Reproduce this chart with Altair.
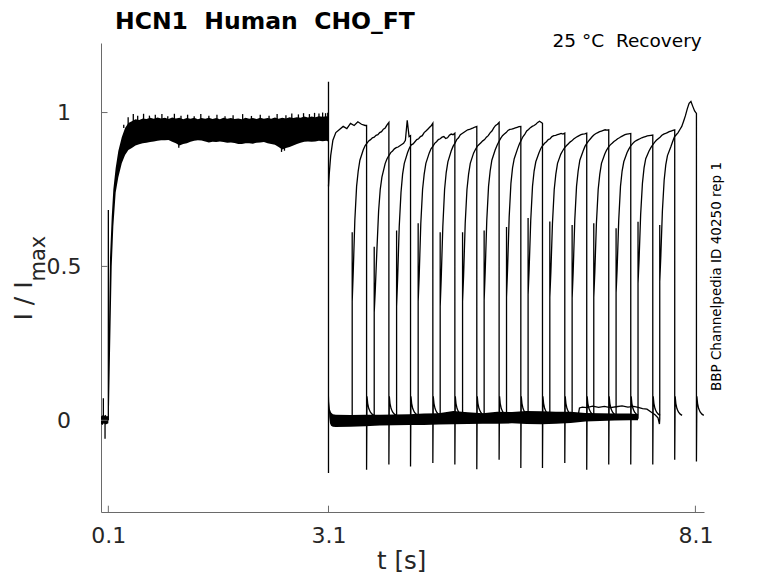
import altair as alt
import pandas as pd

# ---------------- texts ----------------
TITLE = "HCN1\u00a0\u00a0Human\u00a0\u00a0CHO_FT"
COND = "25 °C\u00a0\u00a0Recovery"
SIDE = "BBP Channelpedia ID 40250 rep 1"
XTITLE = "t [s]"
YTITLE_MAIN = "I / I"
YTITLE_SUB = "max"

# ---------------- ticks ----------------
x_ticks = [0.1, 3.1, 8.1]
y_ticks = [0.0, 0.5, 1.0]

# ---------------- pre-pulse (0 - 0.1 s) ----------------
pre_t = [0.000, 0.020, 0.040, 0.060, 0.080, 0.100]
pre_lo = [-0.012, -0.015, -0.010, -0.014, -0.012, -0.010]
pre_hi = [0.012, 0.016, 0.014, 0.018, 0.012, 0.015]
pre_spike_t = [0.032, 0.055]
pre_spike_I = [0.072, -0.060]

# ---------------- first activating pulse (0.1 - 3.1 s), noisy band ----------------
p1_t = [0.100, 0.110, 0.123, 0.146, 0.168, 0.200, 0.236, 0.283, 0.328, 0.373,
        0.42, 0.47, 0.52, 0.57, 0.62, 0.67, 0.72, 0.77, 0.82, 0.87,
        0.92, 0.97, 1.02, 1.07, 1.12, 1.17, 1.22, 1.27, 1.32, 1.37,
        1.42, 1.47, 1.52, 1.57, 1.62, 1.67, 1.72, 1.77, 1.82, 1.87,
        1.92, 1.97, 2.02, 2.07, 2.12, 2.17, 2.22, 2.27, 2.32, 2.37,
        2.42, 2.47, 2.52, 2.57, 2.62, 2.67, 2.72, 2.77, 2.82, 2.87,
        2.92, 2.97, 3.02, 3.07, 3.098]
p1_lo = [0.000, 0.050, 0.220, 0.500, 0.630, 0.740, 0.790, 0.835, 0.862, 0.878,
         0.885, 0.893, 0.897, 0.900, 0.902, 0.904, 0.906, 0.908, 0.910, 0.910,
         0.911, 0.905, 0.900, 0.893, 0.898, 0.900, 0.905, 0.908, 0.910, 0.909,
         0.906, 0.903, 0.905, 0.904, 0.906, 0.904, 0.902, 0.903, 0.901, 0.898,
         0.898, 0.900, 0.900, 0.899, 0.902, 0.903, 0.904, 0.900, 0.898, 0.895,
         0.888, 0.880, 0.885, 0.888, 0.893, 0.898, 0.902, 0.905, 0.906, 0.905,
         0.906, 0.908, 0.907, 0.908, 0.906]
p1_hi = [0.050, 0.320, 0.530, 0.660, 0.750, 0.820, 0.875, 0.920, 0.950, 0.966,
         0.972, 0.978, 0.976, 0.981, 0.979, 0.983, 0.980, 0.984, 0.981, 0.983,
         0.979, 0.984, 0.981, 0.983, 0.978, 0.982, 0.980, 0.983, 0.978, 0.982,
         0.980, 0.983, 0.979, 0.982, 0.978, 0.983, 0.980, 0.982, 0.979, 0.981,
         0.978, 0.983, 0.980, 0.982, 0.979, 0.983, 0.980, 0.982, 0.980, 0.984,
         0.980, 0.983, 0.981, 0.985, 0.982, 0.985, 0.983, 0.987, 0.984, 0.987,
         0.985, 0.988, 0.986, 0.988, 0.986]
# hairline noise spikes on top of the plateau band
p1_spike_t = [0.31, 0.37, 0.44, 0.50, 0.58, 0.66, 0.74, 0.83, 0.91, 1.00,
              1.09, 1.18, 1.27, 1.36, 1.47, 1.58, 1.69, 1.80, 1.93, 2.05,
              2.17, 2.29, 2.40, 2.52, 2.60, 2.69, 2.76, 2.84, 2.91, 2.97,
              3.02, 3.06, 3.09]
p1_spike_I = [0.960, 0.985, 0.995, 0.990, 0.996, 0.990, 0.993, 0.995, 0.988, 0.996,
              0.990, 0.993, 0.988, 0.995, 0.990, 0.993, 0.988, 0.991, 0.995, 0.989,
              0.993, 0.990, 0.995, 0.991, 0.997, 0.994, 0.998, 0.995, 0.999, 0.997,
              1.000, 0.998, 0.999]
p1_dip_t = [1.06, 2.46, 2.50]
p1_dip_I = [0.886, 0.872, 0.876]
jump_t = [0.100, 0.100, 0.102]
jump_I = [0.000, 0.683, 0.300]

# ---------------- transient at 3.1 s ----------------
step_t = [3.100, 3.100]
step_I = [1.100, -0.171]

# ---------------- deactivated baseline band (3.1 - 7.32 s) ----------------
base_t = [3.100, 3.104, 3.110, 3.120, 3.135, 3.160, 3.200, 3.400, 3.600, 3.800,
          4.000, 4.200, 4.400, 4.600, 4.800, 5.000, 5.200, 5.400, 5.600, 5.800,
          6.000, 6.200, 6.400, 6.600, 6.800, 7.000, 7.200, 7.318]
base_lo = [0.100, 0.040, 0.010, -0.010, -0.018, -0.021, -0.022, -0.021, -0.019, -0.017,
           -0.016, -0.015, -0.015, -0.014, -0.013, -0.012, -0.011, -0.011, -0.010, -0.012,
           -0.013, -0.011, -0.009, -0.004, -0.002, -0.001, 0.000, 0.000]
base_hi = [0.170, 0.100, 0.060, 0.035, 0.025, 0.020, 0.018, 0.017, 0.018, 0.018,
           0.019, 0.020, 0.022, 0.023, 0.030, 0.026, 0.023, 0.028, 0.027, 0.030,
           0.029, 0.028, 0.028, 0.024, 0.023, 0.022, 0.022, 0.020]

# elevated baseline of the last sweep
s16_base_t = [6.50, 6.52, 6.56, 6.62, 6.70, 6.78, 6.86, 6.94, 7.02, 7.10,
              7.18, 7.26, 7.32, 7.38, 7.44, 7.50, 7.55, 7.59, 7.61]
s16_base_I = [0.012, 0.040, 0.043, 0.041, 0.046, 0.042, 0.045, 0.041, 0.044, 0.047,
              0.043, 0.045, 0.042, 0.038, 0.036, 0.026, 0.018, 0.008, -0.012]

# ---------------- recovery test pulses ----------------
s1_t = [3.100, 3.110, 3.130, 3.160, 3.200, 3.250, 3.300, 3.350, 3.400, 3.450,
        3.500, 3.550, 3.600]
s1_I = [0.760, 0.800, 0.860, 0.910, 0.935, 0.945, 0.955, 0.948, 0.965, 0.958,
        0.970, 0.962, 0.958]

onsets = [3.423, 3.723, 4.028, 4.322, 4.622, 4.927, 5.221, 5.526, 5.820, 6.116,
          6.420, 6.715, 7.019, 7.318, 7.614]
offsets = [3.619, 3.923, 4.218, 4.522, 4.822, 5.121, 5.425, 5.721, 6.016, 6.320,
           6.619, 6.919, 7.219, 7.519, 7.818, 8.114]
spike_top = [0.611, 0.564, 0.617, 0.640, 0.611, 0.611, 0.617, 0.628, 0.657, 0.646,
             0.635, 0.640, 0.624, 0.645, 0.635]
off_bottom = [-0.161, -0.144, -0.150, -0.139, -0.144, -0.159, -0.128, -0.155,
              -0.155, -0.139, -0.161, -0.144, -0.144, -0.144, -0.128, -0.134]

rise_dt = [0.000, 0.014, 0.036, 0.060, 0.082, 0.105, 0.150, 0.175, 0.200, 0.225,
           0.250, 0.275, 0.300, 0.325, 0.350, 0.375, 0.400, 0.425, 0.450, 0.475, 0.495]
rise_I = [
    [0.386, 0.48, 0.65, 0.76, 0.81, 0.845, 0.878, 0.892, 0.900, 0.908, 0.912, 0.918, 0.920, 0.926, 0.928, 0.935, 0.938, 0.946, 0.950, 0.960, 0.968],
    [0.350, 0.42, 0.55, 0.68, 0.75, 0.790, 0.835, 0.850, 0.860, 0.870, 0.875, 0.882, 0.886, 0.888, 0.892, 0.896, 0.900, 0.910, 0.975, 0.922, 0.925],
    [0.370, 0.46, 0.63, 0.74, 0.80, 0.835, 0.870, 0.885, 0.895, 0.898, 0.905, 0.912, 0.915, 0.922, 0.925, 0.935, 0.940, 0.946, 0.952, 0.958, 0.965],
    [0.386, 0.47, 0.64, 0.75, 0.80, 0.835, 0.868, 0.882, 0.890, 0.900, 0.905, 0.912, 0.915, 0.920, 0.922, 0.916, 0.918, 0.926, 0.930, 0.928, 0.933],
    [0.370, 0.46, 0.63, 0.75, 0.805, 0.840, 0.875, 0.890, 0.900, 0.912, 0.918, 0.928, 0.932, 0.936, 0.940, 0.944, 0.945, 0.948, 0.950, 0.953, 0.955],
    [0.386, 0.47, 0.64, 0.75, 0.80, 0.835, 0.868, 0.880, 0.890, 0.896, 0.902, 0.908, 0.912, 0.920, 0.925, 0.934, 0.940, 0.950, 0.958, 0.962, 0.968],
    [0.390, 0.48, 0.65, 0.76, 0.81, 0.845, 0.878, 0.893, 0.905, 0.916, 0.925, 0.930, 0.935, 0.942, 0.945, 0.946, 0.948, 0.950, 0.952, 0.954, 0.955],
    [0.400, 0.49, 0.66, 0.77, 0.82, 0.850, 0.882, 0.898, 0.910, 0.922, 0.930, 0.940, 0.945, 0.951, 0.955, 0.958, 0.962, 0.968, 0.972, 0.968, 0.965],
    [0.408, 0.49, 0.65, 0.76, 0.81, 0.840, 0.870, 0.884, 0.893, 0.900, 0.905, 0.912, 0.915, 0.922, 0.925, 0.926, 0.928, 0.930, 0.932, 0.930, 0.933],
    [0.400, 0.48, 0.64, 0.75, 0.80, 0.835, 0.865, 0.876, 0.885, 0.892, 0.898, 0.904, 0.908, 0.914, 0.918, 0.922, 0.925, 0.928, 0.930, 0.931, 0.933],
    [0.397, 0.48, 0.65, 0.76, 0.81, 0.845, 0.875, 0.890, 0.900, 0.908, 0.915, 0.922, 0.928, 0.932, 0.935, 0.938, 0.940, 0.942, 0.944, 0.943, 0.944],
    [0.400, 0.48, 0.64, 0.75, 0.80, 0.835, 0.865, 0.878, 0.888, 0.895, 0.900, 0.906, 0.910, 0.915, 0.918, 0.922, 0.925, 0.928, 0.930, 0.931, 0.932],
    [0.414, 0.49, 0.65, 0.76, 0.81, 0.840, 0.870, 0.882, 0.892, 0.899, 0.905, 0.909, 0.912, 0.915, 0.918, 0.920, 0.922, 0.924, 0.925, 0.926, 0.927],
    [0.445, 0.52, 0.67, 0.77, 0.82, 0.850, 0.875, 0.886, 0.895, 0.903, 0.910, 0.915, 0.920, 0.926, 0.930, 0.932, 0.935, 0.938, 0.940, 0.942, 0.944],
    [0.450, 0.53, 0.68, 0.78, 0.83, 0.860, 0.888, 0.905, 0.921, 0.928, 0.935, 0.945, 0.955, 0.972, 0.990, 1.012, 1.030, 1.036, 1.020, 1.005, 0.997],
]

tail_dt = [0.006, 0.015, 0.030, 0.050, 0.075, 0.100]
tail_I = [0.078, 0.055, 0.038, 0.027, 0.020, 0.016]

# ---------------- build tables ----------------
line_rows = []


def add_line(seg, ts, vs):
    for i, (t, v) in enumerate(zip(ts, vs)):
        line_rows.append({"t": t, "I": v, "seg": seg, "ord": i})


area_rows = []


def add_band(seg, ts, lo, hi):
    for t, a, b in zip(ts, lo, hi):
        area_rows.append({"t": t, "lo": a, "hi": b, "seg": seg})


add_band("pre", pre_t, pre_lo, pre_hi)
add_band("p1", p1_t, p1_lo, p1_hi)
add_band("base", base_t, base_lo, base_hi)

for j, (t, v) in enumerate(zip(pre_spike_t, pre_spike_I)):
    add_line(f"prespike{j}", [t, t], [0.0, v])
for j, (t, v) in enumerate(zip(p1_spike_t, p1_spike_I)):
    add_line(f"p1spike{j}", [t, t], [0.95, v])
for j, (t, v) in enumerate(zip(p1_dip_t, p1_dip_I)):
    add_line(f"p1dip{j}", [t, t], [0.91, v])
add_line("jump", jump_t, jump_I)
add_line("step", step_t, step_I)


def tail_part(off, bottom):
    ts = [off]
    vs = [bottom]
    for dt, v in zip(tail_dt, tail_I):
        ts.append(off + dt)
        vs.append(v)
    return ts, vs


# sweep 1 (no delay)
tt, vv = tail_part(offsets[0], off_bottom[0])
add_line("sweep1", s1_t + [offsets[0]] + tt, s1_I + [s1_I[-1]] + vv)

# sweeps 2..16
for k in range(len(onsets)):
    on = onsets[k]
    off = offsets[k + 1]
    ts, vs = [], []
    if k == len(onsets) - 1:
        ts += s16_base_t
        vs += s16_base_I
    ts += [on, on]
    vs += [0.005, spike_top[k]]
    vals = rise_I[k]
    for i, (dt, v) in enumerate(zip(rise_dt, vals)):
        ts.append(off if i == len(rise_dt) - 1 else on + dt)
        vs.append(v)
    tt, vv = tail_part(off, off_bottom[k + 1])
    add_line(f"sweep{k + 2}", ts + tt, vs + vv)

line_df = pd.DataFrame(line_rows)
area_df = pd.DataFrame(area_rows)

# ---------------- chart ----------------
AX = "#6a6a6a"
LAB = "#262626"
FONT = "DejaVu Sans"
W, H = 603, 469

xs = alt.Scale(domain=[0, 8.217], nice=False, zero=False)
ys = alt.Scale(domain=[-0.298, 1.226], nice=False, zero=False)
xax = alt.Axis(values=x_ticks, labelExpr="toString(datum.value)", ticks=False, tickSize=0,
               grid=False, domainColor=AX, domainWidth=1, labelFont=FONT, labelFontSize=22,
               labelColor=LAB, labelPadding=13, labelFlush=False, labelOverlap=False, title=None)
yax = alt.Axis(values=y_ticks, labelExpr="toString(datum.value)", ticks=False, tickSize=0,
               grid=False, domainColor=AX, domainWidth=1, labelFont=FONT, labelFontSize=22,
               labelColor=LAB, labelPadding=37.5, labelAlign="center", labelBaseline="middle",
               labelFlush=False, labelOverlap=False, title=None)

bands = alt.Chart(area_df).mark_area(color="black", opacity=1).encode(
    x=alt.X("t:Q", scale=xs, axis=xax, title=None),
    y=alt.Y("lo:Q", scale=ys, axis=yax, title=None),
    y2="hi:Q",
    detail="seg:N",
)

lines = alt.Chart(line_df).mark_line(color="black", strokeWidth=1.3).encode(
    x=alt.X("t:Q", scale=xs, axis=xax, title=None),
    y=alt.Y("I:Q", scale=ys, axis=yax, title=None),
    detail="seg:N",
    order="ord:Q",
)

xtick_marks = alt.Chart(pd.DataFrame({"t": x_ticks})).mark_rule(color=AX, strokeWidth=1).encode(
    x=alt.X("t:Q", scale=xs, axis=xax, title=None),
    y=alt.value(H),
    y2=alt.value(H - 6.3),
)
ytick_marks = alt.Chart(pd.DataFrame({"I": y_ticks})).mark_rule(color=AX, strokeWidth=1).encode(
    y=alt.Y("I:Q", scale=ys, axis=yax, title=None),
    x=alt.value(0),
    x2=alt.value(6.5),
)


def label(txt, x, y, size, **kw):
    return alt.Chart(pd.DataFrame({"txt": [txt]})).mark_text(font=FONT, fontSize=size, **kw).encode(
        x=alt.value(x), y=alt.value(y), text="txt:N")


t_title = label(TITLE, 14, -13.8, 23.5, fontWeight="bold", align="left", baseline="alphabetic", color="black")
t_cond = label(COND, 600.7, 4.3, 18.5, align="right", baseline="alphabetic", color="black")
t_side = label(SIDE, 620, 233.5, 13.5, angle=270, align="center", baseline="alphabetic", color="black")
t_x = label(XTITLE, 300.7, 525.5, 24.5, align="center", baseline="alphabetic", color=LAB)
t_y = label(YTITLE_MAIN, -69, 277.5, 25, angle=270, align="left", baseline="alphabetic", color=LAB)
t_ysub = label(YTITLE_SUB, -56.5, 238.5, 21, angle=270, align="left", baseline="alphabetic", color=LAB)

chart = alt.layer(
    bands, lines, xtick_marks, ytick_marks, t_title, t_cond, t_side, t_x, t_y, t_ysub
).properties(
    width=W,
    height=H,
    padding={"left": 93, "top": 35, "right": 40, "bottom": 63},
    autosize=alt.AutoSizeParams(type="none"),
).configure_view(strokeWidth=0)

chart.save("out.html", embed_options={"renderer": "svg", "actions": False})
